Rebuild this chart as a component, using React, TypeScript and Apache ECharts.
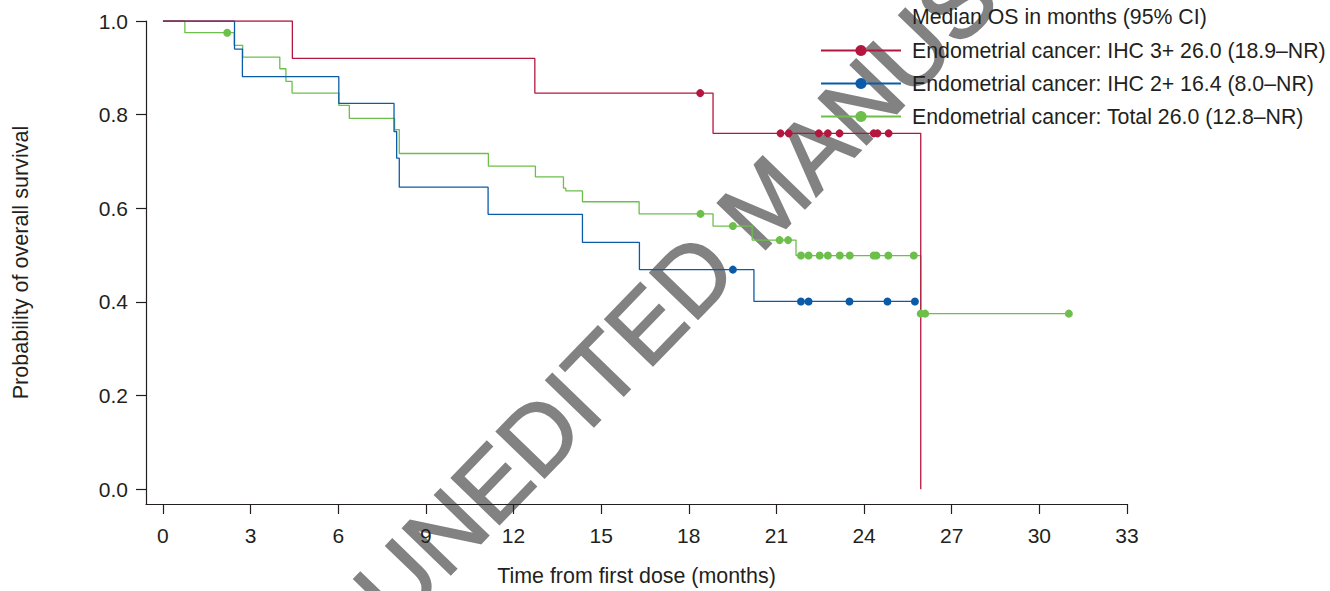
import React, { useEffect, useRef } from "react";
import * as echarts from "echarts";

// ---------- data ----------
const xTicks = [0, 3, 6, 9, 12, 15, 18, 21, 24, 27, 30, 33];
const yTicks = [0, 0.2, 0.4, 0.6, 0.8, 1.0];

const seriesNames = [
  "Endometrial cancer: IHC 3+ 26.0 (18.9–NR)",
  "Endometrial cancer: IHC 2+ 16.4 (8.0–NR)",
  "Endometrial cancer: Total 26.0 (12.8–NR)",
];
const legendTitle = "Median OS in months (95% CI)";
const xTitle = "Time from first dose (months)";
const yTitle = "Probability of overall survival";
const watermark = "UNEDITED MANUSCRIPT";

// Kaplan–Meier steps: [time (months), survival after event]
const ihc3Steps: [number, number][] = [
  [0, 1], [4.43, 0.92], [12.73, 0.846], [18.83, 0.76], [25.94, 0],
];
const ihc3Censored: [number, number][] = [
  [18.39, 0.846], [21.14, 0.76], [21.42, 0.76], [22.45, 0.76], [22.76, 0.76],
  [23.16, 0.76], [24.33, 0.76], [24.46, 0.76], [24.84, 0.76],
];

const ihc2Steps: [number, number][] = [
  [0, 1], [2.45, 0.94], [2.72, 0.881], [6.02, 0.824], [7.91, 0.764], [8.0, 0.707],
  [8.09, 0.645], [11.13, 0.587], [14.36, 0.527], [16.31, 0.469], [20.23, 0.401], [25.74, 0.401],
];
const ihc2Censored: [number, number][] = [
  [19.51, 0.469], [21.84, 0.401], [22.1, 0.401], [23.5, 0.401], [24.8, 0.401], [25.74, 0.401],
];

const totalSteps: [number, number][] = [
  [0, 1], [0.75, 0.975], [2.44, 0.948], [2.73, 0.923], [4.0, 0.898], [4.21, 0.871],
  [4.42, 0.846], [6.02, 0.82], [6.38, 0.792], [7.93, 0.768], [8.09, 0.717], [11.14, 0.69],
  [12.75, 0.667], [13.71, 0.643], [13.79, 0.637], [14.36, 0.614], [16.3, 0.588],
  [18.83, 0.562], [20.17, 0.532], [21.67, 0.499], [25.94, 0.375], [31.01, 0.375],
];
const totalCensored: [number, number][] = [
  [2.2, 0.975], [18.4, 0.588], [19.51, 0.562], [21.11, 0.532], [21.4, 0.532],
  [21.84, 0.499], [22.1, 0.499], [22.48, 0.499], [22.76, 0.499], [23.17, 0.499],
  [23.51, 0.499], [24.33, 0.499], [24.42, 0.499], [24.83, 0.499], [25.7, 0.499],
  [25.94, 0.375], [26.09, 0.375], [31.01, 0.375],
];

const colors = ["#b3173f", "#0b5ca8", "#6cbf4b"];

const FONT = '"Liberation Sans", Arial, Helvetica, sans-serif';
const TXT = "#231f20";

export default function App() {
  const ref = useRef<HTMLDivElement>(null);
  useEffect(() => {
    if (!ref.current) return;
    const chart = echarts.init(ref.current, undefined, { renderer: "svg" });
    const steps = [ihc3Steps, ihc2Steps, totalSteps];
    const cens = [ihc3Censored, ihc2Censored, totalCensored];
    const series: any[] = [];
    steps.forEach((d, i) => {
      series.push({
        name: seriesNames[i],
        type: "line",
        step: "end",
        data: d,
        symbol: "circle",
        showSymbol: false,
        symbolSize: 12,
        lineStyle: { color: colors[i], width: 1.3 },
        itemStyle: { color: colors[i] },
        z: 2 + (2 - i),
        silent: true,
      });
    });
    cens.forEach((d, i) => {
      series.push({
        name: seriesNames[i] + " censored",
        type: "scatter",
        data: d,
        symbol: "circle",
        symbolSize: 8,
        itemStyle: { color: colors[i], opacity: 1 },
        z: 6,
        silent: true,
      });
    });
    chart.setOption({
      animation: false,
      textStyle: { fontFamily: FONT, color: TXT },
      grid: { left: 146, right: 203, top: 21, bottom: 80, containLabel: false },
      xAxis: {
        type: "value",
        min: -0.58,
        max: 33,
        name: xTitle,
        nameLocation: "middle",
        nameGap: 61,
        nameTextStyle: { fontSize: 21.4, color: TXT, fontFamily: FONT },
        axisLine: { show: true, onZero: false, lineStyle: { color: TXT, width: 1.2 } },
        axisTick: { show: true, length: 10, customValues: xTicks, lineStyle: { color: TXT, width: 1.2 } },
        axisLabel: { customValues: xTicks, fontSize: 21, color: TXT, margin: 21, fontFamily: FONT },
        splitLine: { show: false },
        z: 3,
      },
      yAxis: {
        type: "value",
        min: -0.0316,
        max: 1,
        name: yTitle,
        nameLocation: "middle",
        nameGap: 115,
        nameTextStyle: { fontSize: 21.6, color: TXT, fontFamily: FONT },
        axisLine: { show: true, onZero: false, lineStyle: { color: TXT, width: 1.2 } },
        axisTick: { show: true, length: 10, customValues: yTicks, lineStyle: { color: TXT, width: 1.2 } },
        axisLabel: {
          customValues: yTicks,
          fontSize: 21,
          color: TXT,
          margin: 18,
          fontFamily: FONT,
          formatter: (v: number) => v.toFixed(1),
        },
        splitLine: { show: false },
        z: 3,
      },
      legend: {
        data: seriesNames,
        orient: "vertical",
        left: 815,
        top: 35,
        itemWidth: 80,
        itemHeight: 14,
        itemGap: 12,
        z: 4,
        textStyle: { fontSize: 21.3, color: TXT, fontFamily: FONT, lineHeight: 21, padding: [0, 0, 0, 6] },
        selectedMode: false,
      },
      graphic: [
        {
          type: "text",
          x: 777,
          y: 189,
          rotation: (46 * Math.PI) / 180,
          z: -1,
          silent: true,
          style: {
            text: watermark,
            fontSize: 97,
            fontFamily: FONT,
            fill: "#828282",
            stroke: "#828282",
            lineWidth: 1.8,
            align: "center",
            verticalAlign: "middle",
          },
        },
        {
          type: "text",
          left: 912,
          top: 6,
          z: 5,
          style: { text: legendTitle, fontSize: 21.3, fill: TXT, fontFamily: FONT },
        },
      ],
      series,
    });
    return () => chart.dispose();
  }, []);
  return (
    <div
      ref={ref}
      style={{ position: "fixed", left: 0, top: 0, width: 1330, height: 591, background: "#fff" }}
    />
  );
}
